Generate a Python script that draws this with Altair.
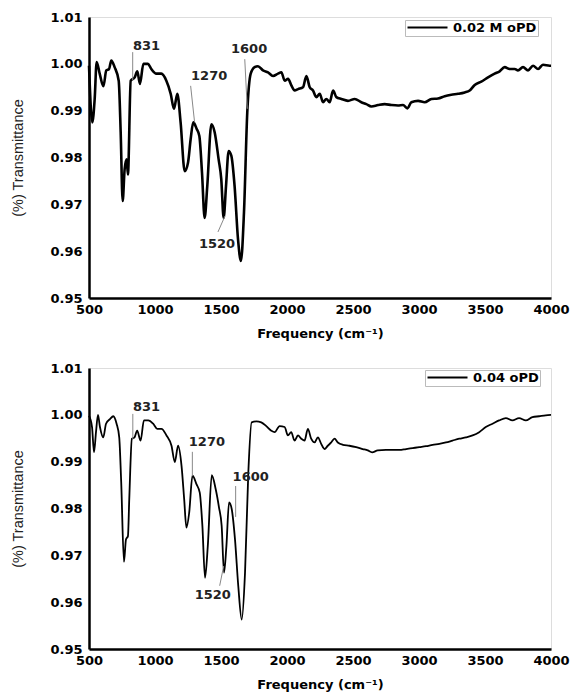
import altair as alt
import pandas as pd

# ---------------- data ----------------
top_freq = [500, 525, 543, 558, 581, 609, 631, 652, 669, 694, 725, 740, 755, 770, 785, 795, 816, 846, 866, 886,
            912, 947, 972, 1010, 1048, 1086, 1119, 1144, 1169, 1194, 1225, 1250, 1270, 1290, 1316, 1336, 1356,
            1376, 1396, 1427, 1452, 1482, 1502, 1520, 1538, 1558, 1578, 1603, 1629, 1651, 1674, 1699, 1725,
            1755, 1780, 1818, 1856, 1894, 1932, 1957, 1983, 2008, 2033, 2058, 2084, 2121, 2147, 2172, 2197,
            2222, 2248, 2273, 2298, 2323, 2349, 2374, 2412, 2462, 2513, 2563, 2601, 2639, 2690, 2740, 2791,
            2841, 2879, 2912, 2942, 2993, 3043, 3094, 3144, 3195, 3245, 3296, 3346, 3384, 3422, 3472, 3523,
            3573, 3611, 3649, 3687, 3725, 3750, 3788, 3826, 3864, 3902, 3939, 3990, 4000]
top_trans = [0.9996, 0.9875, 0.9925, 1.0004, 0.9979, 0.9952, 0.9986, 0.9989, 1.0007, 0.9993, 0.9964, 0.9854,
             0.9707, 0.9775, 0.9796, 0.9764, 0.9964, 0.9971, 0.9984, 0.9957, 1.0000, 1.0000, 0.9989, 0.9979,
             0.9979, 0.9964, 0.9936, 0.9904, 0.9936, 0.9875, 0.9771, 0.9789, 0.9839, 0.9875, 0.9861, 0.9846,
             0.9768, 0.9671, 0.9739, 0.9871, 0.9854, 0.9796, 0.9754, 0.9671, 0.9739, 0.9814, 0.9804, 0.9739,
             0.9625, 0.9579, 0.9682, 0.9896, 0.9979, 0.9993, 0.9995, 0.9986, 0.9982, 0.9974, 0.9979, 0.9982,
             0.9964, 0.9968, 0.9954, 0.9943, 0.9946, 0.9950, 0.9974, 0.9950, 0.9943, 0.9929, 0.9936, 0.9918,
             0.9925, 0.9918, 0.9943, 0.9929, 0.9925, 0.9921, 0.9925, 0.9918, 0.9914, 0.9909, 0.9912, 0.9914,
             0.9912, 0.9911, 0.9912, 0.9905, 0.9918, 0.9921, 0.9918, 0.9925, 0.9926, 0.9931, 0.9934, 0.9936,
             0.9939, 0.9943, 0.9955, 0.9962, 0.9971, 0.9979, 0.9984, 0.9993, 0.9989, 0.9989, 0.9986, 0.9993,
             0.9986, 0.9996, 0.9989, 0.9998, 0.9996, 0.9996]

bot_freq = [500, 523, 538, 553, 568, 583, 608, 629, 659, 684, 709, 729, 744, 765, 780, 795, 805, 825, 845, 865,
            891, 916, 949, 986, 1017, 1049, 1087, 1125, 1150, 1175, 1201, 1221, 1238, 1259, 1284, 1314, 1339,
            1359, 1379, 1400, 1430, 1460, 1485, 1505, 1523, 1541, 1561, 1581, 1606, 1631, 1657, 1682, 1707,
            1732, 1768, 1805, 1843, 1881, 1906, 1944, 1982, 2007, 2032, 2057, 2083, 2108, 2133, 2158, 2183,
            2209, 2234, 2259, 2284, 2309, 2335, 2360, 2385, 2423, 2473, 2524, 2574, 2612, 2645, 2687, 2750,
            2801, 2851, 2902, 2952, 3002, 3053, 3103, 3154, 3204, 3254, 3305, 3355, 3406, 3456, 3506, 3557,
            3607, 3658, 3708, 3758, 3809, 3859, 3910, 3960, 4000]
bot_trans = [0.9998, 0.9974, 0.9920, 0.9963, 1.0000, 0.9974, 0.9952, 0.9981, 0.9991, 0.9997, 0.9981, 0.9952,
             0.9856, 0.9686, 0.9734, 0.9741, 0.9820, 0.9949, 0.9952, 0.9966, 0.9945, 0.9988, 0.9988, 0.9981,
             0.9970, 0.9970, 0.9956, 0.9934, 0.9899, 0.9934, 0.9891, 0.9820, 0.9759, 0.9791, 0.9870, 0.9852,
             0.9834, 0.9763, 0.9652, 0.9720, 0.9871, 0.9841, 0.9802, 0.9763, 0.9663, 0.9720, 0.9813, 0.9799,
             0.9734, 0.9634, 0.9563, 0.9663, 0.9877, 0.9984, 0.9986, 0.9984, 0.9976, 0.9966, 0.9963, 0.9976,
             0.9974, 0.9956, 0.9963, 0.9945, 0.9956, 0.9949, 0.9945, 0.9970, 0.9949, 0.9941, 0.9952, 0.9938,
             0.9927, 0.9934, 0.9941, 0.9949, 0.9941, 0.9936, 0.9934, 0.9931, 0.9927, 0.9924, 0.9920, 0.9924,
             0.9925, 0.9925, 0.9925, 0.9927, 0.9929, 0.9931, 0.9933, 0.9936, 0.9938, 0.9941, 0.9945, 0.9949,
             0.9952, 0.9956, 0.9963, 0.9974, 0.9981, 0.9988, 0.9993, 0.9988, 0.9993, 0.9988, 0.9995, 0.9997,
             0.9999, 1.0000]

series_names = ["0.02 M oPD", "0.04 oPD"]

peak_labels = ["831", "1270", "1600", "1520"]
top_label_x = [833, 1273, 1576, 1333]
top_label_y = [1.0038, 0.9974, 1.0032, 0.9615]
top_lead_x = [831, 1270, 1680, 1477]
top_lead_y = [1.0025, 0.9953, 1.0010, 0.9641]
top_lead_x2 = [831, 1300, 1699, 1530]
top_lead_y2 = [0.9965, 0.9875, 0.9904, 0.9675]

bot_label_x = [833, 1256, 1588, 1301]
bot_label_y = [1.0017, 0.9942, 0.9867, 0.9615]
bot_lead_x = [832, 1283, 1611, 1490]
bot_lead_y = [1.0002, 0.9921, 0.9848, 0.9635]
bot_lead_x2 = [832, 1283, 1611, 1520]
bot_lead_y2 = [0.9948, 0.9869, 0.9782, 0.9677]

x_ticks = [500, 1000, 1500, 2000, 2500, 3000, 3500, 4000]
y_ticks = [0.95, 0.96, 0.97, 0.98, 0.99, 1.00, 1.01]

FONT_B = "DejaVu Sans"
W, H = 462, 281


def panel(freq, trans, name, lab_x, lab_y, lx, ly, lx2, ly2, stroke_w, legend_x, legend_y):
    df = pd.DataFrame({"f": freq, "t": trans, "s": name})
    xsc = alt.Scale(domain=[500, 4000], nice=False, zero=False)
    ysc = alt.Scale(domain=[0.95, 1.01], nice=False, zero=False)
    xax = alt.Axis(values=x_ticks, format="d", title="Frequency (cm⁻¹)", grid=False, ticks=False,
                   labelFont=FONT_B, labelFontWeight="bold", labelFontSize=13, labelColor="black",
                   labelPadding=5, titleFont=FONT_B, titleFontWeight="bold", titleFontSize=13,
                   titleColor="black", titlePadding=11, domainColor="black", domainWidth=2.5,
                   labelFlush=False)
    yax = alt.Axis(values=y_ticks, format=".2f", title="(%) Transmittance", grid=False, ticks=False,
                   labelFont=FONT_B, labelFontWeight="bold", labelFontSize=13, labelColor="black",
                   labelPadding=7, titleFont="Liberation Sans", titleFontWeight="normal", titleFontSize=14.5,
                   titleColor="#222", titlePadding=24, domainColor="black", domainWidth=2.5,
                   labelFlush=False)
    line = alt.Chart(df).mark_line(strokeWidth=stroke_w, interpolate="monotone").encode(
        x=alt.X("f:Q", scale=xsc, axis=xax),
        y=alt.Y("t:Q", scale=ysc, axis=yax),
        color=alt.Color("s:N", scale=alt.Scale(range=["black"]),
                        legend=alt.Legend(title=None, orient="none", legendX=legend_x, legendY=legend_y,
                                          symbolType="M-1,0H7", symbolSize=100, symbolStrokeWidth=2,
                                          symbolStrokeColor="black", labelOffset=34,
                                          labelFont=FONT_B, labelFontWeight="bold", labelFontSize=13,
                                          labelColor="black", strokeColor="#bbb", padding=1,
                                          fillColor="white")),
    )
    lead_df = pd.DataFrame({"x": lx, "y": ly, "x2": lx2, "y2": ly2})
    leads = alt.Chart(lead_df).mark_rule(color="#888", strokeWidth=1).encode(
        x=alt.X("x:Q", scale=xsc), y=alt.Y("y:Q", scale=ysc), x2="x2:Q", y2="y2:Q")
    lab_df = pd.DataFrame({"x": lab_x, "y": lab_y, "label": peak_labels})
    labels = alt.Chart(lab_df).mark_text(align="left", baseline="middle", font=FONT_B, fontWeight="bold",
                                         fontSize=13, color="#222").encode(
        x=alt.X("x:Q", scale=xsc), y=alt.Y("y:Q", scale=ysc), text="label:N")
    return alt.layer(line, leads, labels).properties(width=W, height=H)


top = panel(top_freq, top_trans, series_names[0], top_label_x, top_label_y,
            top_lead_x, top_lead_y, top_lead_x2, top_lead_y2, 2.6, 316, 3)
bottom = panel(bot_freq, bot_trans, series_names[1], bot_label_x, bot_label_y,
               bot_lead_x, bot_lead_y, bot_lead_x2, bot_lead_y2, 1.8, 336, 2)

chart = alt.vconcat(top, bottom, spacing=70, bounds="flush").resolve_scale(color="independent").properties(
    padding={"left": 10, "top": 10, "right": 0, "bottom": 0},
).configure_view(stroke="black", strokeWidth=2).configure(background="white")

chart.save("out.html", embed_options={"renderer": "svg", "actions": False})
